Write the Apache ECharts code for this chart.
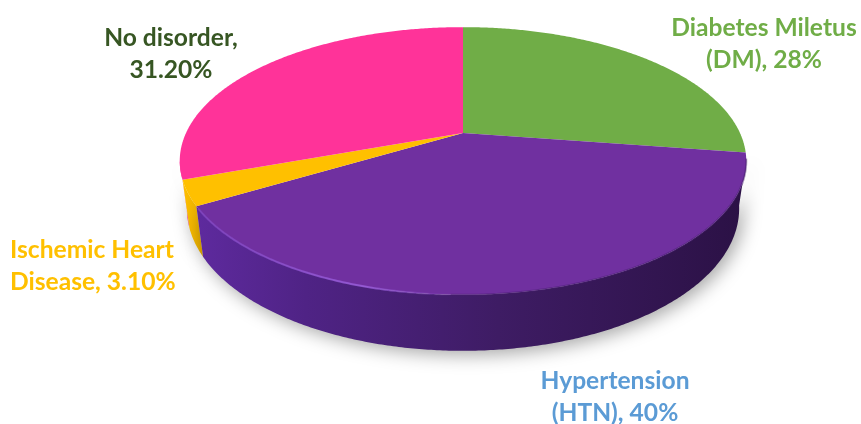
<!DOCTYPE html>
<html>
<head>
<meta charset="utf-8">
<style>html,body{margin:0;padding:0;background:#fff}#c{width:861px;height:424px}</style>
<script src="https://cdn.jsdelivr.net/npm/echarts@6/dist/echarts.min.js"></script>
</head>
<body>
<div id="c"></div>
<script>
var categories = ['Diabetes Miletus (DM)', 'Hypertension (HTN)', 'Ischemic Heart Disease', 'No disorder'];
var values = [28, 40, 3.1, 31.2];
var labelTexts = ['Diabetes Miletus\n(DM), 28%', 'Hypertension\n(HTN), 40%', 'Ischemic Heart\nDisease, 3.10%', 'No disorder,\n31.20%'];
var topColors = ['#70AD47', '#7030A0', '#FFC000', '#FF3399'];
var labelColors = ['#70AD47', '#5B9BD5', '#FFC000', '#375623'];
var labelPos = [[764, 44, 'center'], [615, 397, 'center'], [10, 266, 'left'], [171, 54, 'center']];

// perspective view of the pie
var CX = 463, CY = 133, A = 277, B = 128, K = 0.209, SHRINK = 0.975;
var total = values.reduce(function (s, v) { return s + v; }, 0);
function project(deg) {
  var r = deg * Math.PI / 180, u = Math.sin(r), v = -Math.cos(r), w = 1 - K * v;
  return {x: CX + A * u / w, y: CY + B * v / w, v: v};
}
function upperPoint(deg) { var p = project(deg); return [p.x, p.y]; }
function lowerPoint(deg) {
  var p = project(deg);
  return [CX + (p.x - CX) * SHRINK, p.y + 45 + 11 * p.v];
}
function span(i) {
  var s = 0;
  for (var j = 0; j < i; j++) s += values[j];
  return [s / total * 360, (s + values[i]) / total * 360];
}
function angles(a0, a1) {
  var list = [], n = Math.max(2, Math.ceil(Math.abs(a1 - a0) * 2));
  for (var i = 0; i <= n; i++) list.push(a0 + (a1 - a0) * i / n);
  return list;
}
function arc(a0, a1) { return angles(a0, a1).map(upperPoint); }
var WALL_FROM = 101, WALL_TO = 258;
function wallGradient(i) {
  if (i === 1) {
    return new echarts.graphic.LinearGradient(0, 0, 1, 0, [
      {offset: 0, color: '#5E2A9E'}, {offset: 0.2, color: '#4F2385'},
      {offset: 0.55, color: '#3E1C64'}, {offset: 1, color: '#2B1145'}]);
  }
  if (i === 2) {
    return new echarts.graphic.LinearGradient(0, 0, 1, 0, [
      {offset: 0, color: '#FFC000'}, {offset: 1, color: '#E5AC00'}]);
  }
  return topColors[i];
}

var option = {
  animation: false,
  backgroundColor: '#ffffff',
  series: [
    {
      type: 'custom', coordinateSystem: 'none', silent: true, z: 1,
      data: [3, 0, 2, 1].map(function (i) { return [i, values[i]]; }),
      renderItem: function (params, api) {
        var i = api.value(0), s = span(i);
        var a0 = Math.max(s[0], WALL_FROM), a1 = Math.min(s[1], WALL_TO);
        if (a1 <= a0) return {type: 'group', children: []};
        var list = angles(a0, a1);
        return {
          type: 'polygon',
          shape: {points: list.map(upperPoint).concat(list.map(lowerPoint).reverse())},
          style: {fill: wallGradient(i), shadowBlur: 18, shadowColor: 'rgba(0,0,0,0.35)', shadowOffsetX: 4, shadowOffsetY: 4}
        };
      }
    },
    {
      type: 'custom', coordinateSystem: 'none', silent: true, z: 2,
      data: values.map(function (v, i) { return [i, v]; }),
      renderItem: function (params, api) {
        var i = api.value(0), s = span(i);
        var kids = [{
          type: 'polygon',
          shape: {points: [[CX, CY]].concat(arc(s[0], s[1]))},
          style: {fill: topColors[i]}
        }];
        if (i === 1) {
          kids.push({
            type: 'polyline',
            shape: {points: arc(182, s[1] - 1)},
            style: {fill: 'none', lineWidth: 2, stroke: new echarts.graphic.LinearGradient(1, 0, 0, 0, [
              {offset: 0, color: 'rgba(150,90,215,0)'}, {offset: 0.35, color: 'rgba(150,90,215,0.9)'}, {offset: 1, color: 'rgba(125,65,190,0.8)'}])}
          });
          kids.push({
            type: 'polyline',
            shape: {points: arc(101, 182)},
            style: {fill: 'none', lineWidth: 2, stroke: 'rgba(70,30,110,0.45)'}
          });
        }
        return {type: 'group', children: kids};
      }
    },
    {
      type: 'custom', coordinateSystem: 'none', silent: true, z: 3,
      data: categories.map(function (c, i) { return [i]; }),
      renderItem: function (params, api) {
        var i = api.value(0), p = labelPos[i];
        return {
          type: 'text',
          x: p[0], y: p[1],
          style: {
            text: labelTexts[i], fill: labelColors[i], align: p[2], verticalAlign: 'middle',
            font: 'bold 24.6px Lato', lineHeight: 32
          }
        };
      }
    }
  ]
};
echarts.init(document.getElementById('c'), null, {renderer: 'canvas'}).setOption(option);
</script>
</body>
</html>
